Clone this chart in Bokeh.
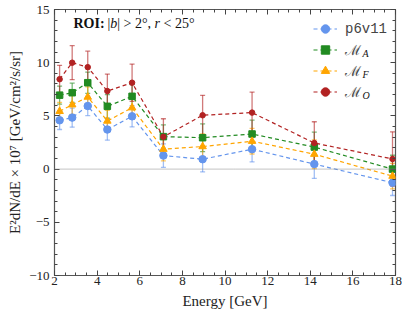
from bokeh.plotting import figure
from bokeh.models import (ColumnDataSource, Whisker, TeeHead, Legend, LegendItem,
                          Label, Span, LinearAxis, SingleIntervalTicker, Range1d)
from bokeh.embed import file_html
from bokeh.resources import INLINE

energy = [2.24, 2.83, 3.56, 4.48, 5.64, 7.11, 8.95, 11.27, 14.19, 17.86]

p6v11 = [4.59, 4.84, 5.93, 3.72, 4.96, 1.27, 0.93, 1.87, 0.47, -1.28]
p6v11_err = [0.87, 0.9, 0.9, 1.0, 1.0, 1.1, 1.2, 1.2, 1.35, 1.2]

m_a = [6.95, 7.18, 8.12, 5.9, 6.84, 3.05, 2.95, 3.3, 2.07, 0.0]
m_a_err = [0.85, 0.9, 1.0, 1.1, 1.1, 1.1, 1.3, 1.3, 1.4, 1.3]

m_f = [5.43, 6.05, 6.77, 4.52, 5.77, 1.87, 2.12, 2.62, 1.4, -0.66]
m_f_err = [0.85, 0.9, 0.95, 1.0, 1.0, 1.1, 1.2, 1.2, 1.35, 1.2]

m_o = [8.45, 10.0, 9.58, 7.33, 8.12, 3.03, 5.06, 5.31, 2.45, 0.95]
m_o_err = [1.3, 1.6, 1.5, 1.6, 1.75, 1.7, 1.87, 1.93, 2.0, 2.55]

series = [
    ("p6v11", "", p6v11, p6v11_err, "#6495ED", "circle", 7.5),
    ("\u2133", "A", m_a, m_a_err, "#228B22", "square", 6.5),
    ("\u2133", "F", m_f, m_f_err, "#FFA500", "triangle", 7.5),
    ("\u2133", "O", m_o, m_o_err, "#B22222", "circle", 5.5),
]

# title pieces: (text, italic?)
title_parts = [("|", False), ("b", True), ("| > 2\u00b0, ", False), ("r", True), (" < 25\u00b0", False)]

SERIF = "Liberation Serif"
MONO = "Liberation Mono"

FRAME_H = 266  # frame height in screen px (for placing annotations)

p = figure(width=403, height=316, output_backend="svg", toolbar_location=None,
           x_range=Range1d(2, 18), y_range=Range1d(-10, 15),
           min_border_left=54, min_border_right=8, min_border_top=9, min_border_bottom=41)
p.xgrid.visible = False
p.ygrid.visible = False
p.outline_line_color = "#555555"
p.outline_line_width = 1.2


def style_axis(ax, interval, minor, labels=True):
    ax.ticker = SingleIntervalTicker(interval=interval, num_minor_ticks=minor)
    ax.major_tick_in = 5
    ax.major_tick_out = 0
    ax.minor_tick_in = 3
    ax.minor_tick_out = 0
    ax.axis_line_color = None
    ax.major_tick_line_color = "#444444"
    ax.minor_tick_line_color = "#444444"
    ax.major_label_text_font = SERIF
    ax.major_label_text_font_size = "13px"
    ax.major_label_text_color = "#222222"
    if not labels:
        ax.major_label_text_alpha = 0
        ax.major_label_text_font_size = "0px"
        ax.major_label_standoff = 0

style_axis(p.xaxis[0], 2, 4)
style_axis(p.yaxis[0], 5, 5)
p.xaxis[0].axis_label = "Energy [GeV]"
p.yaxis[0].axis_label = "E\u00b2dN/dE \u00d7 10\u2077 [GeV/cm\u00b2/s/sr]"
for ax in (p.xaxis[0], p.yaxis[0]):
    ax.axis_label_text_font = SERIF
    ax.axis_label_text_font_size = "15px"
    ax.axis_label_text_font_style = "normal"
    ax.axis_label_text_color = "#222222"
p.xaxis[0].axis_label_standoff = 5
p.yaxis[0].axis_label_standoff = 3
p.xaxis[0].major_label_standoff = 1
p.yaxis[0].major_label_standoff = 5

top_ax = LinearAxis()
style_axis(top_ax, 2, 4, labels=False)
p.add_layout(top_ax, "above")
right_ax = LinearAxis()
style_axis(right_ax, 5, 5, labels=False)
p.add_layout(right_ax, "right")

p.add_layout(Span(location=0, dimension="width", line_color="#888888",
                  line_dash="1 1", line_width=1))

items = []
for name, sub, vals, errs, color, marker, size in series:
    src = ColumnDataSource(dict(x=energy, y=vals,
                                lo=[v - e for v, e in zip(vals, errs)],
                                hi=[v + e for v, e in zip(vals, errs)]))
    w = Whisker(source=src, base="x", lower="lo", upper="hi",
                line_color=color, line_alpha=0.6, line_width=1.3,
                upper_head=TeeHead(size=5, line_color=color, line_alpha=0.6, line_width=1.3),
                lower_head=TeeHead(size=5, line_color=color, line_alpha=0.6, line_width=1.3))
    p.add_layout(w)
    ln = p.line("x", "y", source=src, line_color=color, line_dash="4 3", line_width=1.2)
    sc = p.scatter("x", "y", source=src, marker=marker, size=size,
                   fill_color=color, line_color=color)
    items.append(LegendItem(label=name, renderers=[ln, sc]))

common = dict(border_line_color=None, background_fill_alpha=0,
              label_text_font_size="14px", glyph_width=24, label_standoff=8,
              spacing=0, label_height=21, glyph_height=21, margin=0, padding=0)
leg1 = Legend(items=items[:1], location=(259, FRAME_H - 30), label_text_font=MONO, **common)
leg2 = Legend(items=items[1:], location=(259, FRAME_H - 93), label_text_font="DejaVu Serif",
              **common)
p.add_layout(leg1)
p.add_layout(leg2)

# subscripts of the legend labels
for i, (name, sub, *_rest) in enumerate(series):
    if sub:
        p.add_layout(Label(x=308, y=FRAME_H - (19 + 21 * i) - 4, x_units="screen",
                           y_units="screen", text=sub, text_font=SERIF,
                           text_font_style="italic", text_font_size="10px",
                           text_baseline="middle", text_color="#111111"))

p.add_layout(Label(x=19, y=FRAME_H - 14, x_units="screen", y_units="screen",
                   text="ROI:", text_font=SERIF, text_font_style="bold",
                   text_font_size="14px", text_baseline="middle", text_color="#111111"))

# approximate Times-metric advance widths (em) for placing the title pieces
adv = {"|": 0.2, "b": 0.5, " ": 0.25, ">": 0.564, "<": 0.564, "2": 0.5, "5": 0.5,
       "\u00b0": 0.4, ",": 0.25, "r": 0.389}
tx = 53.0
for txt, ital in title_parts:
    lead = len(txt) - len(txt.lstrip(" "))
    tx += lead * adv[" "] * 14
    body = txt.lstrip(" ")
    p.add_layout(Label(x=tx, y=FRAME_H - 14, x_units="screen", y_units="screen",
                       text=body, text_font=SERIF,
                       text_font_style="italic" if ital else "normal",
                       text_font_size="14px", text_baseline="middle", text_color="#111111"))
    tx += sum(adv.get(c, 0.5) for c in body) * 14

open("out.html", "w").write(file_html(p, INLINE))
